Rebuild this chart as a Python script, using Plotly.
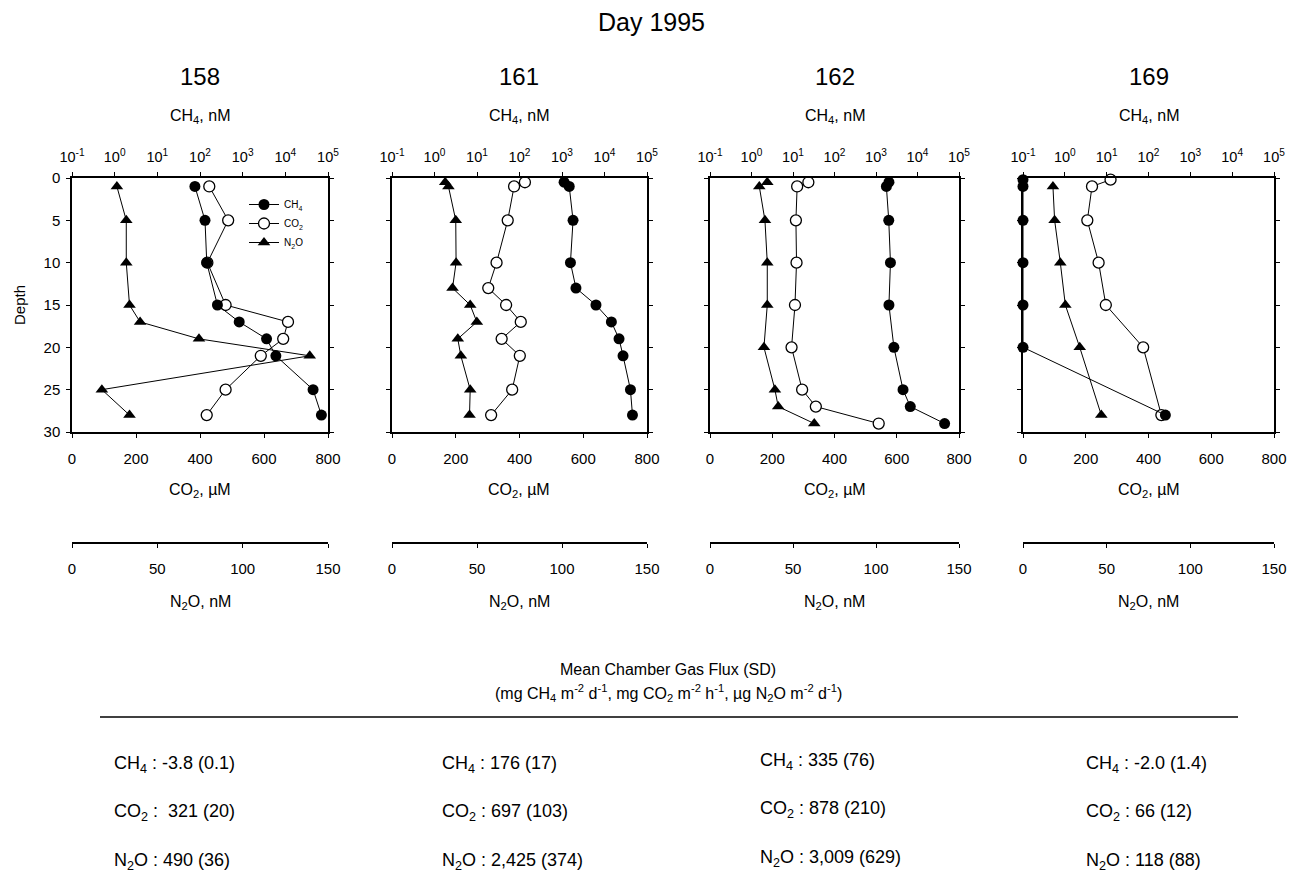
import plotly.graph_objects as go

# ---------------- data ----------------
days = ["158", "161", "162", "169"]

depth_ch4_158 = [1, 5, 10, 15, 17, 19, 21, 25, 28]
ch4_158 = [76, 131, 144, 256, 830, 3630, 6000, 44700, 70000]
depth_co2_158 = [1, 5, 10, 15, 17, 19, 21, 25, 28]
co2_158 = [429, 488, 423, 480, 675, 660, 590, 480, 421]
depth_n2o_158 = [1, 5, 10, 15, 17, 19, 21, 25, 28]
n2o_158 = [26.3, 31.8, 31.8, 33.7, 39.9, 74.4, 139.3, 17.5, 33.7]

depth_ch4_161 = [0.5, 1, 5, 10, 13, 15, 17, 19, 21, 25, 28]
ch4_161 = [1120, 1480, 1820, 1580, 2130, 6300, 14500, 22000, 27300, 40800, 45500]
depth_co2_161 = [0.5, 1, 5, 10, 13, 15, 17, 19, 21, 25, 28]
co2_161 = [417, 383, 363, 328, 302, 358, 404, 344, 401, 377, 311]
depth_n2o_161 = [0.5, 1, 5, 10, 13, 15, 17, 19, 21, 25, 28]
n2o_161 = [31.3, 33.2, 37.5, 37.7, 35.6, 46.0, 49.9, 38.7, 40.5, 46.0, 45.6]

depth_ch4_162 = [0.5, 1, 5, 10, 15, 20, 25, 27, 29]
ch4_162 = [2050, 1780, 2030, 2230, 2050, 2700, 4480, 6700, 45000]
depth_co2_162 = [0.5, 1, 5, 10, 15, 20, 25, 27, 29]
co2_162 = [316, 280, 276, 278, 273, 262, 296, 340, 542]
depth_n2o_162 = [0.5, 1, 5, 10, 15, 20, 25, 27, 29]
n2o_162 = [34.5, 29.7, 33.1, 34.5, 34.5, 32.5, 39.1, 41.1, 62.8]

depth_ch4_169 = [0.2, 1, 5, 10, 15, 20, 28]
ch4_169 = [0.1, 0.1, 0.1, 0.1, 0.1, 0.1, 253]
depth_co2_169 = [0.2, 1, 5, 10, 15, 20, 28]
co2_169 = [279, 220, 205, 241, 264, 383, 441]
depth_n2o_169 = [1, 5, 10, 15, 20, 28]
n2o_169 = [17.9, 18.9, 22.3, 25.3, 33.9, 46.8]

ch4_ticks = [0.1, 1, 10, 100, 1000, 10000, 100000]
ch4_ticktext = ["10<sup>-1</sup>", "10<sup>0</sup>", "10<sup>1</sup>", "10<sup>2</sup>",
                "10<sup>3</sup>", "10<sup>4</sup>", "10<sup>5</sup>"]
co2_ticks = [0, 200, 400, 600, 800]
n2o_ticks = [0, 50, 100, 150]
depth_ticks = [0, 5, 10, 15, 20, 25, 30]

flux_ch4 = ["-3.8 (0.1)", "176 (17)", "335 (76)", "-2.0 (1.4)"]
flux_co2 = [" 321 (20)", "697 (103)", "878 (210)", "66 (12)"]
flux_n2o = ["490 (36)", "2,425 (374)", "3,009 (629)", "118 (88)"]

panels = [
    (depth_ch4_158, ch4_158, depth_co2_158, co2_158, depth_n2o_158, n2o_158),
    (depth_ch4_161, ch4_161, depth_co2_161, co2_161, depth_n2o_161, n2o_161),
    (depth_ch4_162, ch4_162, depth_co2_162, co2_162, depth_n2o_162, n2o_162),
    (depth_ch4_169, ch4_169, depth_co2_169, co2_169, depth_n2o_169, n2o_169),
]

# ---------------- layout helpers ----------------
W, H = 1302, 884
OFF = 8                       # page body margin of the browser
FW, FH = W - 2 * OFF, H - 2 * OFF
FONT = "Liberation Sans, Arial, Helvetica, sans-serif"
panel_left = [72, 392, 710, 1023]
panel_right = [328, 647, 959, 1274]
plot_top, plot_bottom = 178, 432
n2o_axis_y = 543


def px(x):
    return (x - OFF) / FW


def py(y):
    return 1 - (y - OFF) / FH


def xname(n):
    return "x" if n == 1 else f"x{n}"


def xkey(n):
    return "xaxis" if n == 1 else f"xaxis{n}"


def ykey(n):
    return "yaxis" if n == 1 else f"yaxis{n}"


def yname(n):
    return "y" if n == 1 else f"y{n}"


fig = go.Figure()
layout = {}

for i, (dch4, ch4, dco2, co2, dn2o, n2o) in enumerate(panels):
    nb, nt, nn, ny = 3 * i + 1, 3 * i + 2, 3 * i + 3, i + 1
    show = i == 0
    fig.add_trace(go.Scatter(
        x=ch4, y=dch4, xaxis=xname(nt), yaxis=yname(ny), mode="lines+markers",
        name="CH<sub>4</sub>", showlegend=show, legendrank=1, cliponaxis=False,
        line=dict(color="black", width=1),
        marker=dict(symbol="circle", size=11, color="black")))
    fig.add_trace(go.Scatter(
        x=co2, y=dco2, xaxis=xname(nb), yaxis=yname(ny), mode="lines+markers",
        name="CO<sub>2</sub>", showlegend=show, legendrank=2, cliponaxis=False,
        line=dict(color="black", width=1),
        marker=dict(symbol="circle", size=11, color="white",
                    line=dict(color="black", width=1.3))))
    fig.add_trace(go.Scatter(
        x=n2o, y=dn2o, xaxis=xname(nn), yaxis=yname(ny), mode="lines+markers",
        name="N<sub>2</sub>O", showlegend=show, legendrank=3, cliponaxis=False,
        line=dict(color="black", width=1),
        marker=dict(symbol="triangle-up", size=11, color="black")))

    dom = [px(panel_left[i]), px(panel_right[i])]
    common = dict(domain=dom, showgrid=False, zeroline=False, showline=True,
                  automargin=False,
                  linecolor="black", linewidth=1.5, ticks="outside", ticklen=4,
                  tickcolor="black", tickfont=dict(family=FONT, size=15, color="black"))
    layout[xkey(nb)] = dict(common, anchor=yname(ny), side="bottom", range=[0, 800],
                            tickvals=co2_ticks, ticklabelstandoff=8)
    layout[xkey(nt)] = dict(common, anchor=yname(ny), side="top", type="log",
                            range=[-1, 5], overlaying=xname(nb), tickvals=ch4_ticks,
                            ticktext=ch4_ticktext, ticklabelstandoff=4,
                            tickfont=dict(family=FONT, size=14.5, color="black"))
    layout[xkey(nn)] = dict(common, anchor="free", position=py(n2o_axis_y),
                            overlaying=xname(nb), range=[0, 150], tickvals=n2o_ticks,
                            ticklabelstandoff=8)
    layout[ykey(ny)] = dict(domain=[py(plot_bottom), py(plot_top)], anchor=xname(nb),
                            range=[30, 0], tickvals=depth_ticks, showticklabels=show,
                            automargin=False,
                            showgrid=False, zeroline=False, showline=True, mirror="ticks",
                            linecolor="black", linewidth=1.5, ticks="outside", ticklen=4,
                            tickcolor="black", ticklabelstandoff=3,
                            tickfont=dict(family=FONT, size=15, color="black"))

annotations = []


def add_text(x, y, text, size, xanchor="center", angle=0):
    annotations.append(dict(x=px(x), y=py(y), xref="paper", yref="paper", text=text,
                            showarrow=False, xanchor=xanchor, yanchor="middle",
                            textangle=angle,
                            font=dict(family=FONT, size=size, color="black")))


add_text(651, 22, "Day 1995", 25)
for i, d in enumerate(days):
    cx = (panel_left[i] + panel_right[i]) / 2
    add_text(cx, 76, d, 24)
    add_text(cx, 117, "CH<sub>4</sub>, nM", 16)
    add_text(cx, 491, "CO<sub>2</sub>, µM", 16)
    add_text(cx, 602, "N<sub>2</sub>O, nM", 16)
add_text(19, 305, "Depth", 15, angle=-90)

add_text(668, 669, "Mean Chamber Gas Flux (SD)", 16)
add_text(668, 693, "(mg CH<sub>4</sub> m<sup>-2</sup> d<sup>-1</sup>, mg CO<sub>2</sub> m<sup>-2</sup> h<sup>-1</sup>, "
         "µg N<sub>2</sub>O m<sup>-2</sup> d<sup>-1</sup>)", 16)

col_x = [112, 440, 758, 1084]
row_y = [764, 812, 861]
row_shift = [0, 0, -3, 0]
for i in range(4):
    add_text(col_x[i], row_y[0] + row_shift[i], "CH<sub>4</sub> : " + flux_ch4[i], 18, "left")
    add_text(col_x[i], row_y[1] + row_shift[i], "CO<sub>2</sub> : " + flux_co2[i], 18, "left")
    add_text(col_x[i], row_y[2] + row_shift[i], "N<sub>2</sub>O : " + flux_n2o[i], 18, "left")

shapes = [dict(type="line", xref="paper", yref="paper", x0=px(100), x1=px(1238),
               y0=py(717), y1=py(717), line=dict(color="black", width=1.5))]

fig.update_layout(
    width=FW, height=FH, margin=dict(l=0, r=0, t=0, b=0, pad=0, autoexpand=False),
    paper_bgcolor="white", plot_bgcolor="white",
    font=dict(family=FONT, color="black"),
    annotations=annotations, shapes=shapes,
    legend=dict(x=px(244), y=py(190), xanchor="left", yanchor="top",
                bgcolor="rgba(0,0,0,0)", font=dict(family=FONT, size=10),
                tracegroupgap=0, itemwidth=30),
    **layout)

fig.write_html("out.html")
